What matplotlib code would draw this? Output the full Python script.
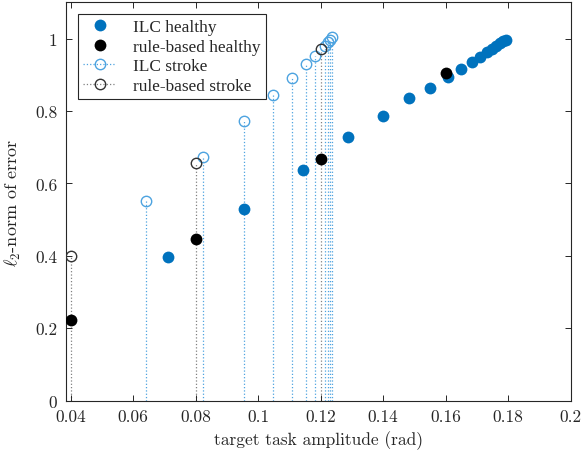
import matplotlib
matplotlib.use("Agg")
import matplotlib.pyplot as plt
from matplotlib.legend_handler import HandlerLine2D

plt.rcParams["mathtext.fontset"] = "cm"
plt.rcParams["axes.formatter.use_mathtext"] = True

# ILC, gesunde Probanden
ilc_healthy_x = [0.0711, 0.0956, 0.1142, 0.1287, 0.1398, 0.1484, 0.1551, 0.1606,
                 0.1649, 0.1683, 0.1710, 0.1731, 0.1747, 0.1761, 0.1774, 0.1784, 0.1792]
ilc_healthy_y = [0.396, 0.530, 0.637, 0.729, 0.785, 0.837, 0.862, 0.893,
                 0.917, 0.935, 0.950, 0.963, 0.970, 0.979, 0.987, 0.993, 0.997]

# regelbasiert, gesund
rule_healthy_x = [0.04, 0.08, 0.12, 0.16]
rule_healthy_y = [0.223, 0.446, 0.667, 0.906]

# ILC, Schlaganfall
ilc_stroke_x = [0.064, 0.0822, 0.0954, 0.1046, 0.1107, 0.1152, 0.1183,
                0.1215, 0.1224, 0.1230, 0.1236]
ilc_stroke_y = [0.551, 0.674, 0.771, 0.845, 0.890, 0.931, 0.952,
                0.979, 0.989, 0.996, 1.005]

# regelbasiert, Schlaganfall
rule_stroke_x = [0.04, 0.08, 0.12]
rule_stroke_y = [0.400, 0.657, 0.972]

xticks = [0.04, 0.06, 0.08, 0.1, 0.12, 0.14, 0.16, 0.18, 0.2]
xticklabels = ["0.04", "0.06", "0.08", "0.1", "0.12", "0.14", "0.16", "0.18", "0.2"]
yticks = [0, 0.2, 0.4, 0.6, 0.8, 1]
yticklabels = ["0", "0.2", "0.4", "0.6", "0.8", "1"]

blue = "#0072BD"
lightblue = "#4DA3E0"
axcol = "#262626"


class EndMarker(HandlerLine2D):
    # Marker am rechten Ende der Linie, wie in MATLAB
    def get_xdata(self, legend, xdescent, ydescent, width, height, fontsize):
        xdata, _ = super().get_xdata(legend, xdescent, ydescent, width, height, fontsize)
        return xdata, [xdata[-1]]


fig = plt.figure(figsize=(5.83, 4.56), dpi=100)
ax = fig.add_axes([0.1127, 0.119, 0.979 - 0.1127, 0.9928 - 0.119])

# Stiele (gepunktet) fuer Schlaganfall-Daten
ax.vlines(ilc_stroke_x, 0, ilc_stroke_y, colors=lightblue, linestyles=":", linewidth=0.9, zorder=1)
ax.vlines(rule_stroke_x, 0, rule_stroke_y, colors="#808080", linestyles=":", linewidth=0.9, zorder=1)

h1, = ax.plot(ilc_healthy_x, ilc_healthy_y, "o", color=blue, markersize=8.5,
              markeredgewidth=0, linestyle="none", zorder=3)
h2, = ax.plot(rule_healthy_x, rule_healthy_y, "o", color="black", markersize=8.5,
              markeredgewidth=0, linestyle="none", zorder=4)
h3, = ax.plot(ilc_stroke_x, ilc_stroke_y, "o", markerfacecolor="none",
              markeredgecolor=lightblue, markersize=7.5, markeredgewidth=1.0,
              linestyle="none", zorder=3)
h4, = ax.plot(rule_stroke_x, rule_stroke_y, "o", markerfacecolor="none",
              markeredgecolor="#333333", markersize=7.5, markeredgewidth=1.0,
              linestyle="none", zorder=4)

# Legenden-Handles fuer Stem-Darstellung
l3, = ax.plot([], [], linestyle=":", color=lightblue, marker="o", markerfacecolor="none",
              markeredgecolor=lightblue, markersize=7.5, linewidth=0.9)
l4, = ax.plot([], [], linestyle=":", color="#808080", marker="o", markerfacecolor="none",
              markeredgecolor="#333333", markersize=7.5, linewidth=0.9)

ax.set_xlim(0.0384, 0.2)
ax.set_ylim(0, 1.1)
ax.set_xticks(xticks)
ax.set_xticklabels(xticklabels)
ax.set_yticks(yticks)
ax.set_yticklabels(yticklabels)

ax.tick_params(direction="in", top=True, right=True, length=4, width=0.7,
               colors=axcol, labelsize=12.5, pad=6)
for lab in ax.get_xticklabels() + ax.get_yticklabels():
    lab.set_fontfamily("cmr10")
for sp in ax.spines.values():
    sp.set_color(axcol)
    sp.set_linewidth(0.8)

ax.set_xlabel("target task amplitude (rad)", fontfamily="cmr10", fontsize=12.5, color=axcol)
ax.set_ylabel(r"$\ell_2$-norm of error", fontfamily="cmr10", fontsize=13, color=axcol,
              labelpad=9)

hm = EndMarker(numpoints=1)
leg = ax.legend([h1, h2, l3, l4],
                ["ILC healthy", "rule-based healthy", "ILC stroke", "rule-based stroke"],
                loc="upper left", bbox_to_anchor=(0.0244, 0.9706), borderaxespad=0,
                prop={"family": "Liberation Serif", "size": 12.4},
                frameon=True, fancybox=False, edgecolor=axcol, framealpha=1,
                handlelength=1.9, handletextpad=1.0, labelspacing=0.2,
                borderpad=0.3, numpoints=1,
                handler_map={h1: hm, h2: hm, l3: hm, l4: hm})
leg.get_frame().set_linewidth(0.8)
for t in leg.get_texts():
    t.set_color(axcol)

fig.savefig("out.png", dpi=100)
